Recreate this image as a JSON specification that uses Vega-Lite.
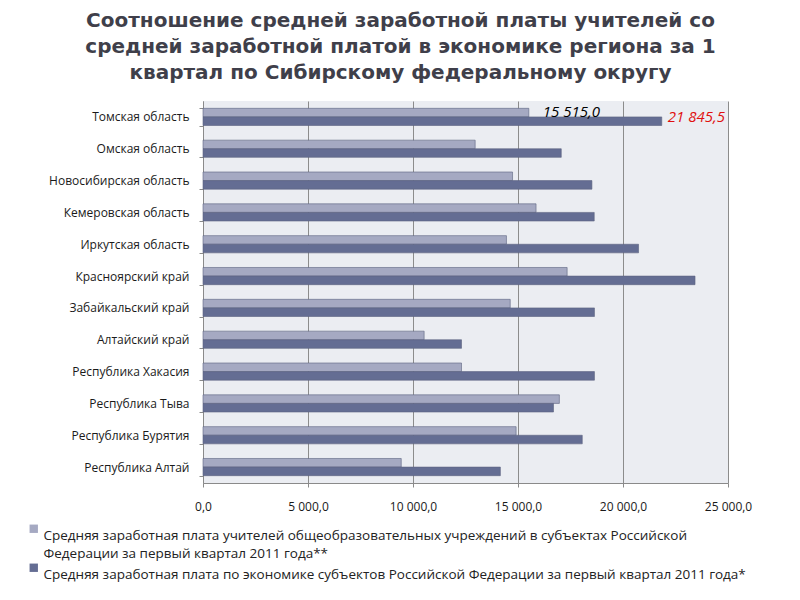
{
  "$schema": "https://vega.github.io/schema/vega-lite/v6.json",
  "width": 525,
  "height": 382,
  "autosize": {"type": "none"},
  "padding": {"left": 203, "top": 101, "right": 72, "bottom": 117},
  "background": "white",
  "title": {
    "text": ["Соотношение средней заработной платы учителей со", "средней заработной платой в экономике региона за 1", "квартал по Сибирскому федеральному округу"],
    "anchor": "middle",
    "frame": "group",
    "dx": -65,
    "offset": 12,
    "font": "DejaVu Sans",
    "fontSize": 20,
    "fontWeight": "bold",
    "lineHeight": 26,
    "color": "#3f3f4a"
  },
  "config": {
    "locale": {"number": {"decimal": ",", "thousands": "\u00a0", "grouping": [3], "currency": ["", " руб."]}},
    "view": {"fill": "#ebedf2", "stroke": null},
    "font": "Open Sans",
    "style": {"guide-label": {"lineHeight": 18}}
  },
  "data": {
    "values": [
      {"region": "Томская область", "series": "Средняя заработная плата учителей общеобразовательных учреждений в субъектах Российской Федерации за первый квартал 2011 года**", "value": 15515.0},
      {"region": "Томская область", "series": "Средняя заработная плата по экономике субъектов Российской Федерации за первый квартал 2011 года*", "value": 21845.5},
      {"region": "Омская область", "series": "Средняя заработная плата учителей общеобразовательных учреждений в субъектах Российской Федерации за первый квартал 2011 года**", "value": 12960},
      {"region": "Омская область", "series": "Средняя заработная плата по экономике субъектов Российской Федерации за первый квартал 2011 года*", "value": 17060},
      {"region": "Новосибирская область", "series": "Средняя заработная плата учителей общеобразовательных учреждений в субъектах Российской Федерации за первый квартал 2011 года**", "value": 14740},
      {"region": "Новосибирская область", "series": "Средняя заработная плата по экономике субъектов Российской Федерации за первый квартал 2011 года*", "value": 18520},
      {"region": "Кемеровская область", "series": "Средняя заработная плата учителей общеобразовательных учреждений в субъектах Российской Федерации за первый квартал 2011 года**", "value": 15860},
      {"region": "Кемеровская область", "series": "Средняя заработная плата по экономике субъектов Российской Федерации за первый квартал 2011 года*", "value": 18630},
      {"region": "Иркутская область", "series": "Средняя заработная плата учителей общеобразовательных учреждений в субъектах Российской Федерации за первый квартал 2011 года**", "value": 14450},
      {"region": "Иркутская область", "series": "Средняя заработная плата по экономике субъектов Российской Федерации за первый квартал 2011 года*", "value": 20740},
      {"region": "Красноярский край", "series": "Средняя заработная плата учителей общеобразовательных учреждений в субъектах Российской Федерации за первый квартал 2011 года**", "value": 17340},
      {"region": "Красноярский край", "series": "Средняя заработная плата по экономике субъектов Российской Федерации за первый квартал 2011 года*", "value": 23430},
      {"region": "Забайкальский край", "series": "Средняя заработная плата учителей общеобразовательных учреждений в субъектах Российской Федерации за первый квартал 2011 года**", "value": 14630},
      {"region": "Забайкальский край", "series": "Средняя заработная плата по экономике субъектов Российской Федерации за первый квартал 2011 года*", "value": 18640},
      {"region": "Алтайский край", "series": "Средняя заработная плата учителей общеобразовательных учреждений в субъектах Российской Федерации за первый квартал 2011 года**", "value": 10530},
      {"region": "Алтайский край", "series": "Средняя заработная плата по экономике субъектов Российской Федерации за первый квартал 2011 года*", "value": 12310},
      {"region": "Республика Хакасия", "series": "Средняя заработная плата учителей общеобразовательных учреждений в субъектах Российской Федерации за первый квартал 2011 года**", "value": 12310},
      {"region": "Республика Хакасия", "series": "Средняя заработная плата по экономике субъектов Российской Федерации за первый квартал 2011 года*", "value": 18640},
      {"region": "Республика Тыва", "series": "Средняя заработная плата учителей общеобразовательных учреждений в субъектах Российской Федерации за первый квартал 2011 года**", "value": 16970},
      {"region": "Республика Тыва", "series": "Средняя заработная плата по экономике субъектов Российской Федерации за первый квартал 2011 года*", "value": 16690},
      {"region": "Республика Бурятия", "series": "Средняя заработная плата учителей общеобразовательных учреждений в субъектах Российской Федерации за первый квартал 2011 года**", "value": 14910},
      {"region": "Республика Бурятия", "series": "Средняя заработная плата по экономике субъектов Российской Федерации за первый квартал 2011 года*", "value": 18060},
      {"region": "Республика Алтай", "series": "Средняя заработная плата учителей общеобразовательных учреждений в субъектах Российской Федерации за первый квартал 2011 года**", "value": 9440},
      {"region": "Республика Алтай", "series": "Средняя заработная плата по экономике субъектов Российской Федерации за первый квартал 2011 года*", "value": 14160}
    ]
  },
  "encoding": {
    "y": {
      "field": "region",
      "type": "nominal",
      "sort": null,
      "scale": {"paddingInner": 0.46, "paddingOuter": 0.23},
      "axis": {
        "title": null,
        "tickBand": "extent",
        "tickSize": 4,
        "tickColor": "#8a8a8a",
        "domainColor": "#8a8a8a",
        "labelFont": "Open Sans",
        "labelFontSize": 12,
        "labelColor": "#1a1a1a",
        "labelPadding": 10,
        "labelLimit": 200
      }
    },
    "x": {
      "field": "value",
      "type": "quantitative",
      "scale": {"domain": [0, 25000], "nice": false},
      "axis": {
        "title": null,
        "values": [0, 5000, 10000, 15000, 20000, 25000],
        "format": ",.1f",
        "grid": true,
        "gridColor": "#8c8c8c",
        "gridWidth": 1,
        "domainColor": "#8a8a8a",
        "tickColor": "#8a8a8a",
        "tickSize": 4,
        "labelFlush": false,
        "labelOverlap": false,
        "labelFont": "Open Sans",
        "labelFontSize": 12,
        "labelColor": "#1a1a1a",
        "labelPadding": 14
      }
    }
  },
  "layer": [
    {
      "mark": {"type": "bar", "stroke": "#5d6380", "strokeWidth": 0.6},
      "encoding": {
        "yOffset": {
          "field": "series",
          "type": "nominal",
          "sort": ["Средняя заработная плата учителей общеобразовательных учреждений в субъектах Российской Федерации за первый квартал 2011 года**", "Средняя заработная плата по экономике субъектов Российской Федерации за первый квартал 2011 года*"]
        },
        "color": {
          "field": "series",
          "type": "nominal",
          "scale": {
            "domain": ["Средняя заработная плата учителей общеобразовательных учреждений в субъектах Российской Федерации за первый квартал 2011 года**", "Средняя заработная плата по экономике субъектов Российской Федерации за первый квартал 2011 года*"],
            "range": ["#a5a9c2", "#646d93"]
          },
          "legend": {
            "title": null,
            "orient": "none",
            "legendX": -176,
            "legendY": 421,
            "direction": "vertical",
            "symbolType": "square",
            "symbolSize": 70,
            "symbolStrokeWidth": 0,
            "labelFont": "Open Sans",
            "labelFontSize": 13.5,
            "labelColor": "#222222",
            "labelLimit": 760,
            "labelOffset": 3,
            "labelBaseline": "top",
            "rowPadding": 0,
            "labelExpr": "indexof(datum.label, '**') > 0 ? ['Средняя заработная плата учителей общеобразовательных учреждений в субъектах Российской', 'Федерации за первый квартал 2011 года**'] : datum.label"
          }
        }
      }
    },
    {
      "transform": [{"filter": "datum.region == 'Томская область' && indexof(datum.series, '**') > 0"}],
      "mark": {"type": "text", "align": "left", "baseline": "middle", "dx": 14, "dy": -5, "fontStyle": "italic", "fontSize": 15, "font": "Open Sans", "color": "#000000"},
      "encoding": {
        "text": {"field": "value", "type": "quantitative", "format": ",.1f"}
      }
    },
    {
      "transform": [{"filter": "datum.region == 'Томская область' && indexof(datum.series, '**') < 0"}],
      "mark": {"type": "text", "align": "left", "baseline": "middle", "dx": 6, "dy": 0, "fontStyle": "italic", "fontSize": 15, "font": "Open Sans", "color": "#e01010"},
      "encoding": {
        "text": {"field": "value", "type": "quantitative", "format": ",.1f"}
      }
    }
  ]
}
